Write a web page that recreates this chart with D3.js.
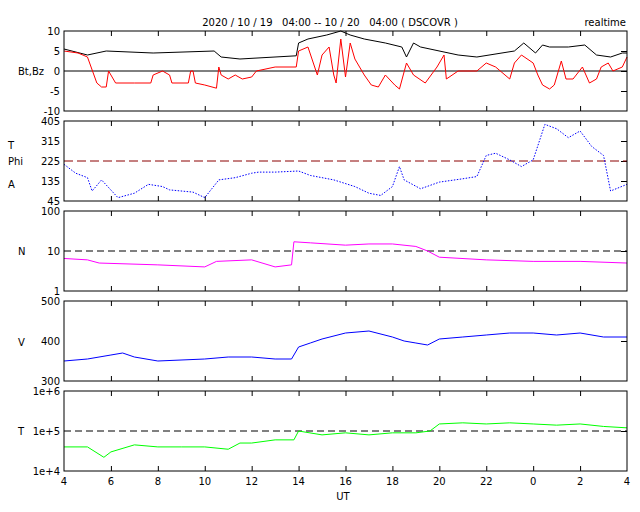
<!DOCTYPE html><html><head><meta charset="utf-8"><script src="https://cdn.jsdelivr.net/npm/d3@7"></script>
<style>body{margin:0;background:#fff}text{font-family:"DejaVu Sans",sans-serif;font-size:10px}</style></head><body>
<svg id="c" width="640" height="512"></svg>
<script>
const xTickLabels=["4","6","8","10","12","14","16","18","20","22","0","2","4"];
const btT=[4,5.0,5.8,7.8,10.4,10.7,11.5,13.9,14.0,14.4,15.2,15.8,16.2,16.8,17.7,18.4,18.6,18.9,19.2,20.8,21.6,23.2,23.6,24.1,24.4,24.7,25.5,26.2,26.7,27.3,27.8,28];
const btV=[5.5,4,5,4.5,5,3.5,3,3.8,7,8,9,10,9,8,7,6,3.5,7,6,4,3.5,5,7,4.5,6.5,6,6,6.5,4,3.5,4.5,4.5];
const bzT=[4,4.6,5.0,5.4,5.6,5.8,5.9,6.2,7.0,7.7,7.8,8.2,8.5,8.6,9.3,9.4,9.5,9.6,10.0,10.5,10.6,10.7,11.0,11.3,11.6,12.0,12.2,13.0,13.9,14.0,14.4,14.8,15.0,15.3,15.5,15.6,15.8,16.0,16.2,16.4,16.8,17.1,17.4,17.7,18.1,18.3,18.6,18.9,19.4,19.9,20.2,20.3,20.8,21.6,22.0,22.4,23.0,23.2,23.5,24.0,24.2,24.4,24.7,24.9,25.2,25.4,25.7,26.1,26.4,26.7,26.9,27.2,27.4,27.8,28.0];
const bzV=[5,4.5,3.5,-3,-4,-4,0,-3,-3,-3,-1,0,-1,-3,-3,0,0,-3,-3.5,-4.3,1,-1,-2,-1,-2,-1.5,0,1,1,5,6,-1,4,6,-1,-3,8,-1.5,7,3,-1,-3.5,-4,-1,-3.5,-4.5,2,-1,-3,1,4,-2,0,0,2,1,-2,2,4,2,-1,-3.5,-4.5,-3.5,2.5,-2,-2,1,-3,-2,1,2,0,1,3.5];
const phiT=[4,4.5,5.0,5.2,5.6,6.3,7.0,7.6,8.2,8.5,9.5,10.0,10.6,11.3,12.0,12.3,13.0,14.0,14.5,15.5,16.4,17.0,17.5,18.0,18.3,18.5,19.2,20.0,21.0,21.6,22.0,22.4,23.0,23.5,24.0,24.5,25.0,25.5,26.0,26.5,27.0,27.3,28.0];
const phiV=[210,170,150,90,140,60,80,120,110,95,85,60,140,150,170,175,175,180,160,140,110,80,70,110,200,140,100,130,145,155,250,260,230,200,230,390,370,330,360,290,250,90,120];
const nT=[4,5,5.5,8,10,10.5,12,13,13.7,13.8,14.5,16,17,18,19,19.5,20,22,24,26,28];
const nV=[6.5,6,5,4.5,4,5.5,6,4,4.5,17,16,14,15,15,13,10,7,6,5.5,5.5,5];
const vT=[4,5,6,6.5,7,8,10,11,12,13,13.7,14,14.5,15,16,17,18,18.5,19,19.5,20,21,22,23,24,25,26,27,28];
const vV=[350,355,365,370,360,350,355,360,360,355,355,385,395,405,420,425,410,400,395,390,405,410,415,420,420,415,420,410,410];
const tT=[4,5,5.7,6,7,8,9,10,11,11.5,12,13,13.8,14,15,16,17,18,19,19.6,20,21,22,23,24,25,26,27,28];
const tV=[4e4,4e4,2.2e4,3e4,4.5e4,4e4,4e4,4e4,3.5e4,5e4,5e4,6e4,6e4,1e5,8e4,9e4,8e4,9e4,9e4,1e5,1.5e5,1.6e5,1.5e5,1.6e5,1.5e5,1.4e5,1.5e5,1.3e5,1.2e5];

const svg=d3.select("#c");
const L=64,R=627;
const x=d3.scaleLinear().domain([4,28]).range([L,R]);
const panels=[
 {top:31,bot:111,y:d3.scaleLinear().domain([-10,10]),ticks:[10,5,0,-5,-10],fmt:d=>d},
 {top:121,bot:201,y:d3.scaleLinear().domain([45,405]),ticks:[405,315,225,135,45],fmt:d=>d},
 {top:211,bot:291,y:d3.scaleLog().domain([1,100]),ticks:[100,10,1],fmt:d=>d},
 {top:301,bot:381,y:d3.scaleLinear().domain([300,500]),ticks:[500,400,300],fmt:d=>d},
 {top:391,bot:471,y:d3.scaleLog().domain([1e4,1e6]),ticks:[1e6,1e5,1e4],fmt:d=>d===1e6?"1e+6":d===1e5?"1e+5":"1e+4"}];
panels.forEach(p=>{
 p.y.range([p.bot,p.top]);
 const g=svg.append("g");
 g.append("g").attr("transform",`translate(0,${p.bot})`).call(d3.axisBottom(x).tickValues(d3.range(6,28,2)).tickSize(-5).tickFormat(""));
 g.append("g").attr("transform",`translate(0,${p.top})`).call(d3.axisTop(x).tickValues(d3.range(6,28,2)).tickSize(-5).tickFormat(""));
 g.append("g").attr("transform",`translate(${L},0)`).call(d3.axisLeft(p.y).tickValues(p.ticks).tickSize(0).tickPadding(4).tickFormat(p.fmt));
 g.append("g").attr("transform",`translate(${R},0)`).call(d3.axisRight(p.y).tickValues(p.ticks.slice(1,-1)).tickSize(-6).tickFormat(""));
 g.selectAll(".domain").remove();
 g.selectAll("line").attr("stroke","#000");
 g.selectAll("text").attr("font-size","10px").attr("font-family","DejaVu Sans,sans-serif");
});
function line(p,T,V,col,dash){
 const ln=d3.line().x((d,i)=>x(T[i])).y(d=>p.y(d));
 svg.append("path").attr("d",ln(V)).attr("fill","none").attr("stroke",col).attr("stroke-width",1);
}
function hline(p,v,col,dash){svg.append("line").attr("x1",L).attr("x2",R).attr("y1",p.y(v)).attr("y2",p.y(v)).attr("stroke",col).attr("stroke-dasharray",dash||null);}
hline(panels[0],0,"#000");
line(panels[0],btT,btV,"#000");
line(panels[0],bzT,bzV,"red");
hline(panels[1],225,"#8b0000","9,4");
svg.append("clipPath").attr("id","cp").append("rect").attr("x",L).attr("y",121).attr("width",R-L).attr("height",80);
svg.append("path").attr("clip-path","url(#cp)").attr("d",d3.line().x((d,i)=>x(phiT[i])).y(d=>panels[1].y(d))(phiV)).attr("fill","none").attr("stroke","blue").attr("stroke-dasharray","1.5,1.5");
hline(panels[2],10,"#000","7,4");
line(panels[2],nT,nV,"magenta");
line(panels[3],vT,vV,"blue");
hline(panels[4],1e5,"#000","7,4");
line(panels[4],tT,tV,"#00ff00");
panels.forEach(p=>svg.append("rect").attr("x",L).attr("y",p.top).attr("width",R-L).attr("height",p.bot-p.top).attr("fill","none").attr("stroke","#000"));
const lab=[["Bt,Bz",18,75],["T",8,149],["Phi",8,165],["A",8,188],["N",18,255],["V",18,346],["T",18,435]];
lab.forEach(l=>svg.append("text").attr("x",l[1]).attr("y",l[2]).text(l[0]));
svg.append("text").attr("x",330).attr("y",26).attr("text-anchor","middle").attr("xml:space","preserve").text("2020 / 10 / 19   04:00 -- 10 / 20   04:00 ( DSCOVR )");
svg.append("text").attr("x",626).attr("y",26).attr("text-anchor","end").text("realtime");
svg.append("g").selectAll("text").data(xTickLabels).join("text").attr("x",(d,i)=>x(4+2*i)).attr("y",485).attr("text-anchor","middle").text(d=>d);
svg.append("text").attr("x",343).attr("y",500).attr("text-anchor","middle").text("UT");
</script></body></html>
